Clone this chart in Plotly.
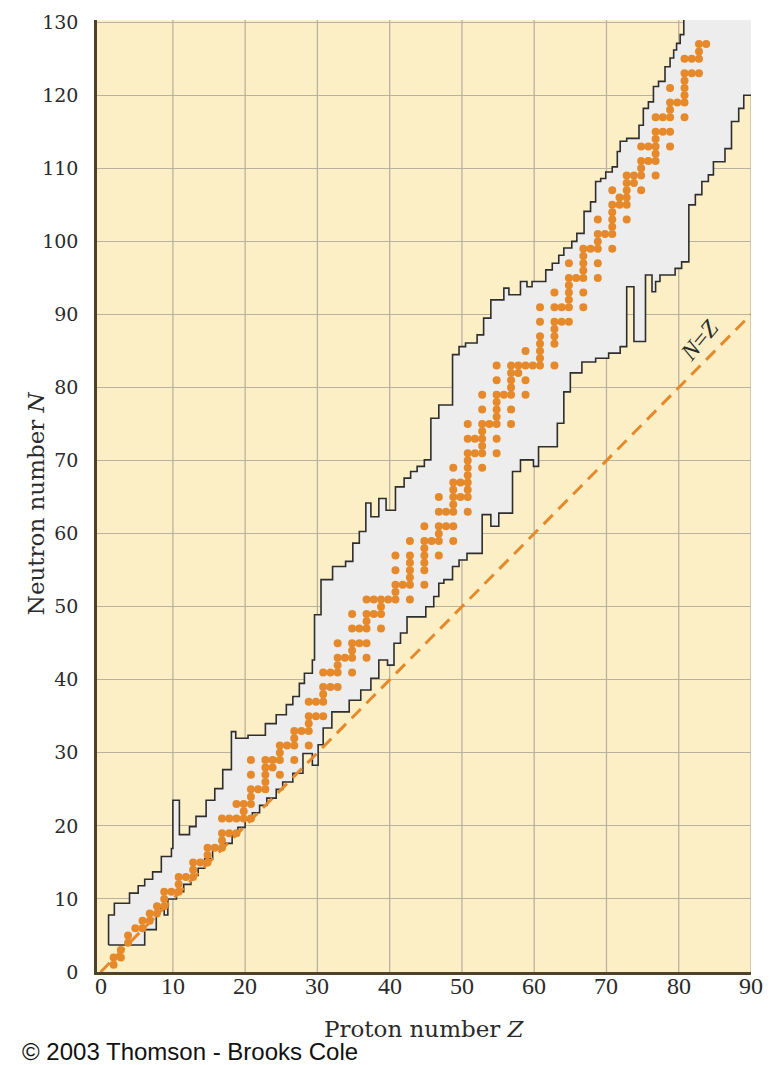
import plotly.graph_objects as go

# ---------------- data ----------------
# Stable nuclei: proton number Z and neutron number N (parallel lists)
STABLE_Z = [
    1, 1, 2, 2, 3, 3, 4, 5, 5, 6, 6, 7, 7, 8, 8, 8, 9, 10, 10, 10,
    11, 12, 12, 12, 13, 14, 14, 14, 15, 16, 16, 16, 16, 17, 17, 18, 18, 18,
    19, 19, 19, 20, 20, 20, 20, 20, 20, 21, 22, 22, 22, 22, 22, 23, 23,
    24, 24, 24, 24, 25, 26, 26, 26, 26, 27, 28, 28, 28, 28, 28, 29, 29,
    30, 30, 30, 30, 30, 31, 31, 32, 32, 32, 32, 32, 33,
    34, 34, 34, 34, 34, 34, 35, 35, 36, 36, 36, 36, 36, 36, 37, 37,
    38, 38, 38, 38, 39, 40, 40, 40, 40, 40, 41,
    42, 42, 42, 42, 42, 42, 42, 44, 44, 44, 44, 44, 44, 44, 45,
    46, 46, 46, 46, 46, 46, 47, 47, 48, 48, 48, 48, 48, 48, 48, 48, 49, 49,
    50, 50, 50, 50, 50, 50, 50, 50, 50, 50, 51, 51,
    52, 52, 52, 52, 52, 52, 52, 52, 53,
    54, 54, 54, 54, 54, 54, 54, 54, 54, 55,
    56, 56, 56, 56, 56, 56, 56, 57, 57, 58, 58, 58, 58, 59,
    60, 60, 60, 60, 60, 60, 60, 62, 62, 62, 62, 62, 62, 62, 63, 63,
    64, 64, 64, 64, 64, 64, 64, 65, 66, 66, 66, 66, 66, 66, 66, 67,
    68, 68, 68, 68, 68, 68, 69, 70, 70, 70, 70, 70, 70, 70, 71, 71,
    72, 72, 72, 72, 72, 72, 73, 73, 74, 74, 74, 74, 74, 75, 75,
    76, 76, 76, 76, 76, 76, 76, 77, 77, 78, 78, 78, 78, 78, 78, 79,
    80, 80, 80, 80, 80, 80, 80, 81, 81, 82, 82, 82, 82, 83,
]
STABLE_N = [
    0, 1, 1, 2, 3, 4, 5, 5, 6, 6, 7, 7, 8, 8, 9, 10, 10, 10, 11, 12,
    12, 12, 13, 14, 14, 14, 15, 16, 16, 16, 17, 18, 20, 18, 20, 18, 20, 22,
    20, 21, 22, 20, 22, 23, 24, 26, 28, 24, 24, 25, 26, 27, 28, 27, 28,
    26, 28, 29, 30, 30, 28, 30, 31, 32, 32, 30, 32, 33, 34, 36, 34, 36,
    34, 36, 37, 38, 40, 38, 40, 38, 40, 41, 42, 44, 42,
    40, 42, 43, 44, 46, 48, 44, 46, 42, 44, 46, 47, 48, 50, 48, 50,
    46, 48, 49, 50, 50, 50, 51, 52, 54, 56, 52,
    50, 52, 53, 54, 55, 56, 58, 52, 54, 55, 56, 57, 58, 60, 58,
    56, 58, 59, 60, 62, 64, 60, 62, 58, 60, 62, 63, 64, 65, 66, 68, 64, 66,
    62, 64, 65, 66, 67, 68, 69, 70, 72, 74, 70, 72,
    68, 70, 71, 72, 73, 74, 76, 78, 74,
    70, 72, 74, 75, 76, 77, 78, 80, 82, 78,
    74, 76, 78, 79, 80, 81, 82, 81, 82, 78, 80, 82, 84, 82,
    82, 83, 84, 85, 86, 88, 90, 82, 85, 86, 87, 88, 90, 92, 88, 90,
    88, 90, 91, 92, 93, 94, 96, 94, 90, 92, 94, 95, 96, 97, 98, 98,
    94, 96, 98, 99, 100, 102, 100, 98, 100, 101, 102, 103, 104, 106, 104, 105,
    102, 104, 105, 106, 107, 108, 107, 108, 106, 108, 109, 110, 112, 110, 112,
    108, 110, 111, 112, 113, 114, 116, 114, 116, 112, 114, 116, 117, 118, 120, 118,
    116, 118, 119, 120, 121, 122, 124, 122, 124, 122, 124, 125, 126, 126,
]
# dots are drawn slightly up/right of the integer (Z, N) in the original figure
DOT_SHIFT_Z = 0.8
DOT_SHIFT_N = 1.0

# Upper (neutron-rich) edge of the band of known nuclei, read as a staircase
UPPER_Z = [1.1, 1.1, 1.9, 1.9, 4.0, 4.0, 5.2, 5.2, 6.1, 6.1, 7.2, 7.2, 8.4, 8.4, 9.8, 9.8,
           10.0, 10.0, 10.9, 10.9, 12.3, 12.3, 13.2, 13.2, 14.6, 14.6, 15.8, 15.8, 16.9, 16.9,
           18.1, 18.1, 18.7, 18.7, 20.4, 20.4, 22.8, 22.8, 24.3, 24.3, 25.7, 25.7, 26.6, 26.6,
           27.5, 27.5, 28.2, 28.2, 29.3, 29.3, 29.6, 29.6, 30.5, 30.5, 32.1, 32.1, 33.9, 33.9,
           34.9, 34.9, 35.8, 35.8, 36.7, 36.7, 37.4, 37.4, 38.5, 38.5, 39.5, 39.5, 40.8, 40.8,
           42.0, 42.0, 42.9, 42.9, 43.8, 43.8, 44.8, 44.8, 45.7, 45.7, 46.8, 46.8, 48.7, 48.7,
           49.6, 49.6, 50.5, 50.5, 52.1, 52.1, 53.0, 53.0, 54.0, 54.0, 55.8, 55.8, 56.5, 56.5,
           58.1, 58.1, 59.0, 59.0, 59.7, 59.7, 61.6, 61.6, 62.5, 62.5, 63.4, 63.4, 64.1, 64.1,
           65.2, 65.2, 65.9, 65.9, 66.9, 66.9, 67.8, 67.8, 68.5, 68.5, 69.2, 69.2, 69.9, 69.9,
           70.8, 70.8, 71.5, 71.5, 71.9, 71.9, 72.8, 72.8, 74.5, 74.5, 75.1, 75.1, 75.8, 75.8,
           76.5, 76.5, 77.2, 77.2, 78.1, 78.1, 78.8, 78.8, 79.3, 79.3, 79.7, 79.7, 80.2, 80.2,
           80.7, 80.7]
UPPER_N = [3.7, 7.8, 7.8, 9.4, 9.4, 10.8, 10.8, 11.8, 11.8, 12.7, 12.7, 13.7, 13.7, 15.8, 15.8, 16.9,
           16.9, 23.5, 23.5, 18.8, 18.8, 19.9, 19.9, 21.3, 21.3, 23.5, 23.5, 25.1, 25.1, 27.7,
           27.7, 32.9, 32.9, 32.0, 32.0, 32.4, 32.4, 34.0, 34.0, 35.2, 35.2, 36.6, 36.6, 37.7,
           37.7, 39.5, 39.5, 40.9, 40.9, 42.7, 42.7, 48.9, 48.9, 53.7, 53.7, 55.5, 55.5, 56.2,
           56.2, 58.7, 58.7, 60.3, 60.3, 64.2, 64.2, 62.3, 62.3, 64.8, 64.8, 63.2, 63.2, 66.4,
           66.4, 67.6, 67.6, 68.5, 68.5, 69.2, 69.2, 70.1, 70.1, 75.8, 75.8, 77.6, 77.6, 84.5,
           84.5, 85.6, 85.6, 86.1, 86.1, 87.2, 87.2, 89.5, 89.5, 92.0, 92.0, 93.6, 93.6, 92.7,
           92.7, 94.5, 94.5, 93.8, 93.8, 94.5, 94.5, 96.1, 96.1, 97.0, 97.0, 98.1, 98.1, 99.1,
           99.1, 100.0, 100.0, 101.1, 101.1, 104.1, 104.1, 105.4, 105.4, 108.2, 108.2, 108.6, 108.6, 109.5,
           109.5, 110.2, 110.2, 112.3, 112.3, 113.7, 113.7, 114.1, 114.1, 115.9, 115.9, 118.2, 118.2, 119.1,
           119.1, 121.2, 121.2, 121.9, 121.9, 123.9, 123.9, 125.1, 125.1, 126.2, 126.2, 127.1, 127.1, 128.3,
           128.3, 130.3]

# Lower (proton-rich) edge of the band, from the right edge down to the origin
LOWER_Z = [90.0, 89.0, 89.0, 88.3, 88.3, 87.3, 87.3, 86.4, 86.4, 84.8, 84.8, 84.1, 84.1, 83.2, 83.2,
           82.3, 82.3, 81.4, 81.4, 80.4, 80.4, 79.5, 79.5, 77.4, 77.4, 76.8, 76.8, 76.3, 76.3,
           75.4, 75.4, 73.8, 73.8, 72.8, 72.8, 71.9, 71.9, 70.3, 70.3, 68.5, 68.5, 66.6, 66.6,
           65.0, 65.0, 64.1, 64.1, 63.2, 63.2, 60.6, 60.6, 59.9, 59.9, 58.1, 58.1, 57.0, 57.0,
           55.1, 55.1, 54.0, 54.0, 52.8, 52.8, 50.7, 50.7, 49.6, 49.6, 48.7, 48.7, 47.5, 47.5,
           46.8, 46.8, 46.1, 46.1, 45.0, 45.0, 42.4, 42.4, 41.5, 41.5, 40.6, 40.6, 39.7, 39.7,
           38.5, 38.5, 37.4, 37.4, 36.0, 36.0, 34.4, 34.4, 32.0, 32.0, 30.8, 30.8, 30.1, 30.1,
           29.3, 29.3, 28.0, 28.0, 26.6, 26.6, 25.2, 25.2, 24.3, 24.3, 23.0, 23.0, 22.0, 22.0,
           21.0, 21.0, 20.0, 20.0, 19.0, 19.0, 18.2, 18.2, 17.0, 17.0, 15.5, 15.5, 14.4, 14.4,
           13.5, 13.5, 12.5, 12.5, 11.5, 11.5, 10.5, 10.5, 9.3, 9.3, 8.8, 8.8, 7.7, 7.7,
           6.1, 6.1, 1.1]
LOWER_N = [120.0, 120.0, 118.2, 118.2, 116.4, 116.4, 112.7, 112.7, 110.9, 110.9, 109.1, 109.1, 108.2, 108.2, 106.4,
           106.4, 105.0, 105.0, 97.2, 97.2, 96.3, 96.3, 95.4, 95.4, 94.5, 94.5, 93.1, 93.1, 95.4,
           95.4, 86.3, 86.3, 93.8, 93.8, 85.6, 85.6, 84.7, 84.7, 84.0, 84.0, 83.5, 83.5, 82.0,
           82.0, 79.4, 79.4, 75.1, 75.1, 71.9, 71.9, 69.2, 69.2, 70.1, 70.1, 68.5, 68.5, 62.8,
           62.8, 61.0, 61.0, 62.6, 62.6, 57.3, 57.3, 56.4, 56.4, 55.5, 55.5, 53.7, 53.7, 53.2,
           53.2, 51.4, 51.4, 50.0, 50.0, 48.6, 48.6, 46.4, 46.4, 45.0, 45.0, 42.0, 42.0, 42.7,
           42.7, 40.2, 40.2, 38.6, 38.6, 37.2, 37.2, 35.6, 35.6, 33.4, 33.4, 31.1, 31.1, 28.3,
           28.3, 29.9, 29.9, 27.2, 27.2, 26.0, 26.0, 25.0, 25.0, 23.8, 23.8, 22.8, 22.8, 21.8,
           21.8, 20.8, 20.8, 19.8, 19.8, 18.8, 18.8, 17.6, 17.6, 16.8, 16.8, 15.5, 15.5, 14.2,
           14.2, 13.2, 13.2, 12.0, 12.0, 11.0, 11.0, 10.0, 10.0, 7.8, 7.8, 8.7, 8.7, 5.8,
           5.8, 3.7, 3.7]

NZ_LINE = [0, 90]                      # N = Z reference line end points
TICKS_Z = [0, 10, 20, 30, 40, 50, 60, 70, 80, 90]
TICKS_N = [0, 10, 20, 30, 40, 50, 60, 70, 80, 90, 100, 110, 120, 130]
GRID_Z = [10, 20, 30, 40, 50, 60, 70, 80, 90]

# ---------------- styling ----------------
BG = "#FCEFC6"
BAND = "#EDEDEE"
EDGE = "#2E2E2E"
ORANGE = "#E6892A"
GRID = "#BAB2A1"
SERIF = "DejaVu Serif"
TXT = "#2A2A2A"

fig = go.Figure()

# band fill (closed along the top and right edges of the plot)
band_x = UPPER_Z + [90.0] + LOWER_Z
band_y = UPPER_N + [130.3] + LOWER_N
fig.add_trace(go.Scatter(x=band_x, y=band_y, mode="lines", fill="toself",
                         fillcolor=BAND, line=dict(width=0), hoverinfo="skip"))
fig.add_trace(go.Scatter(x=UPPER_Z, y=UPPER_N, mode="lines",
                         line=dict(color=EDGE, width=1.6), hoverinfo="skip"))
fig.add_trace(go.Scatter(x=LOWER_Z, y=LOWER_N, mode="lines",
                         line=dict(color=EDGE, width=1.6), hoverinfo="skip"))

# N = Z dashed line
fig.add_trace(go.Scatter(x=NZ_LINE, y=NZ_LINE, mode="lines",
                         line=dict(color=ORANGE, width=3, dash="13px,8px"), hoverinfo="skip"))

# stable nuclei
fig.add_trace(go.Scatter(x=[z + DOT_SHIFT_Z for z in STABLE_Z],
                         y=[n + DOT_SHIFT_N for n in STABLE_N],
                         mode="markers",
                         marker=dict(size=8, color=ORANGE, line=dict(width=0))))

# vertical grid lines (none at Z = 0, which sits under the axis line)
shapes = [dict(type="line", xref="x", yref="paper", x0=g, x1=g, y0=0, y1=1,
               line=dict(color=GRID, width=1.3), layer="below") for g in GRID_Z]

# x tick labels as annotations so they sit close to the axis as in the original
annotations = [dict(text=str(t), x=t, xref="x", y=-0.0145, yref="paper",
                    xanchor="center", yanchor="middle", showarrow=False,
                    font=dict(family="Liberation Serif", size=24, color=TXT))
               for t in TICKS_Z]
annotations += [
    dict(text="Proton number <i>Z</i>", xref="paper", yref="paper",
         x=0.5015, y=-0.06, xanchor="center", yanchor="middle", showarrow=False,
         font=dict(family=SERIF, size=23, color=TXT)),
    dict(text="Neutron number <i>N</i>", xref="paper", yref="paper",
         x=-0.093, y=0.4926, xanchor="center", yanchor="middle", showarrow=False,
         textangle=-90, font=dict(family=SERIF, size=23, color=TXT)),
    dict(text="<i>N</i>=<i>Z</i>", xref="x", yref="y", x=82.9, y=86.5,
         showarrow=False, textangle=-50,
         font=dict(family="Liberation Serif", size=24, color=TXT)),
    dict(text="© 2003 Thomson - Brooks Cole", xref="paper", yref="paper",
         x=-0.1177, y=-0.084, xanchor="left", yanchor="middle", showarrow=False,
         font=dict(family="Liberation Sans", size=24, color="#111111")),
]

# the page body has an 8 px margin, so the figure is sized/offset for that
fig.update_layout(
    width=763, height=1057,
    margin=dict(l=89, r=20, t=12, b=93, autoexpand=False),
    paper_bgcolor="white", plot_bgcolor=BG,
    showlegend=False,
    shapes=shapes,
    annotations=annotations,
    xaxis=dict(range=[-0.5, 90], tickmode="array", tickvals=TICKS_Z,
               showticklabels=False,
               showgrid=False, zeroline=False, automargin=False,
               showline=True, linecolor="#4F4229", linewidth=2.5, ticks=""),
    yaxis=dict(range=[0, 130.3], tickmode="array", tickvals=TICKS_N,
               showgrid=True, gridcolor=GRID, gridwidth=1.3, zeroline=False,
               automargin=False,
               showline=True, linecolor="#4F4229", linewidth=2.5,
               ticks="", ticklabelstandoff=12,
               tickfont=dict(family=SERIF, size=19, color=TXT)),
)

fig.write_html("out.html")
